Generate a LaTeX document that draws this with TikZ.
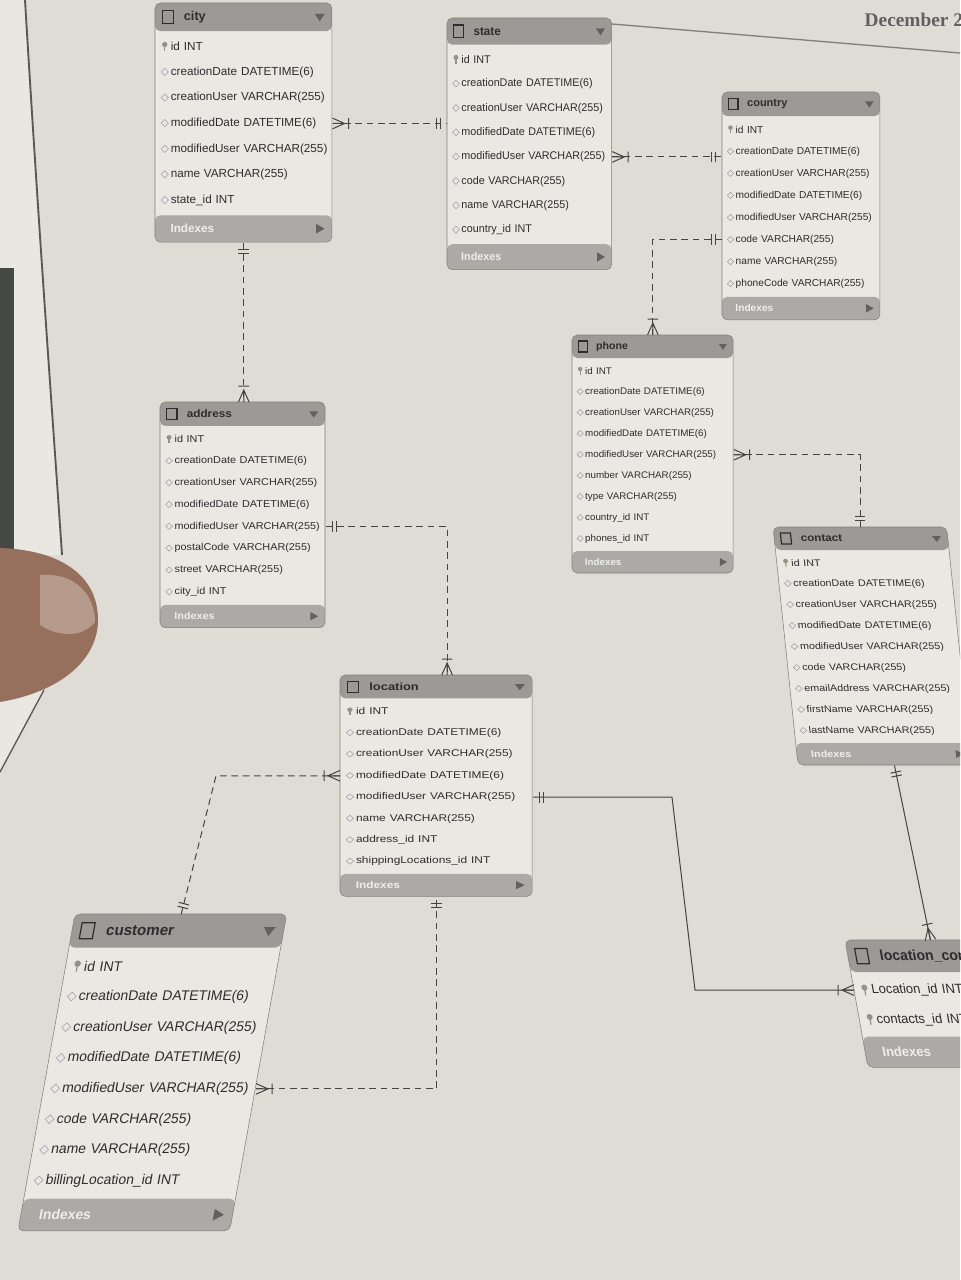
\documentclass[tikz,border=0pt]{standalone}
\usepackage{fontspec}
\setmainfont{Liberation Serif}
\setsansfont{Liberation Sans}
\usetikzlibrary{decorations.markings}

\definecolor{paper}{RGB}{222,220,213}
\definecolor{leftpage}{RGB}{232,231,226}
\definecolor{bodycol}{RGB}{234,232,226}
\definecolor{headcol}{RGB}{156,154,150}
\definecolor{footcol}{RGB}{172,170,166}
\definecolor{edgecol}{RGB}{128,126,122}
\definecolor{inkcol}{RGB}{45,45,45}
\definecolor{linecol}{RGB}{70,68,65}
\definecolor{keycol}{RGB}{150,146,136}
\definecolor{diacol}{RGB}{160,160,160}
\definecolor{thumbcol}{RGB}{150,112,92}
\definecolor{tablecol}{RGB}{70,72,68}

\newcommand{\erfieldfont}{\sffamily\fontsize{7.2}{8}\selectfont}
\newcommand{\ertitlefont}{\sffamily\bfseries\fontsize{7.8}{9}\selectfont}

% #1 name, #2 title, #3 placement, #4 width, #5 rows, #6 key rows, #7 fields
\newcommand{\erentity}[7]{%
  \begin{scope}[#3, transform shape]
    \pgfmathsetmacro{\eh}{49+21*#5}
    \pgfmathsetlengthmacro{\ew}{#4*0.75pt}
    \pgfmathsetlengthmacro{\ehl}{\eh*0.75pt}
    \fill[bodycol, rounded corners=4pt] (0,0) rectangle (#4,\eh);
    \fill[headcol, rounded corners=4pt] (0,0) rectangle (#4,23);
    \fill[footcol, rounded corners=4pt] (0,\eh-22) rectangle (#4,\eh);
    \draw[edgecol, rounded corners=4pt] (0,0) rectangle (#4,\eh);
    \draw[inkcol, line width=0.9pt] (6,6) rectangle (15,17);
    \node[anchor=west, font=\ertitlefont, text=inkcol] (#1-title) at (19,11.5) {#2};
    \fill[inkcol!75] (#4-14,9) -- (#4-6,9) -- (#4-10,15) -- cycle;
    \node[anchor=west, font=\erfieldfont\bfseries, text=white!80!footcol] (#1-idx) at (8,\eh-11) {Indexes};
    \fill[inkcol!75] (#4-13,\eh-15) -- (#4-13,\eh-7) -- (#4-6,\eh-11) -- cycle;
    \foreach \f [count=\i] in {#7} {
      \pgfmathsetmacro{\yc}{14.5+21*\i}
      \node[fieldrow, text width=\ew, anchor=north west] (#1-\i) at (0,4+21*\i) {\mbox{\hspace*{9.5pt}\f}};
      \ifnum\i>#6
        \draw[diacol, fill=white!75!diacol] (5,\yc) -- (8,\yc-3) -- (11,\yc) -- (8,\yc+3) -- cycle;
      \else
        \fill[keycol] (8,\yc-1.5) circle (2.2);
        \draw[keycol, line width=0.9pt] (8,\yc) -- (8,\yc+4);
      \fi
    }
    \node[inner sep=0pt, minimum width=\ew, minimum height=\ehl, anchor=north west] (#1) at (0,0) {};
  \end{scope}}

\begin{document}
\begin{tikzpicture}[x=0.75pt, y=-0.75pt]
	\tikzstyle{fieldrow}=[inner sep=0pt, minimum height=15.75pt, align=left, font=\erfieldfont, text=inkcol]
	\tikzstyle{rel}=[linecol, line width=0.75pt, dash pattern=on 5pt off 3.5pt]
	\tikzstyle{idrel}=[linecol, line width=0.75pt]
	\tikzstyle{one start}=[postaction={decorate, decoration={markings,
		mark=at position 5pt with {\draw[solid] (0pt,-4pt) -- (0pt,4pt);},
		mark=at position 8pt with {\draw[solid] (0pt,-4pt) -- (0pt,4pt);}}}]
	\tikzstyle{one end}=[postaction={decorate, decoration={markings,
		mark=at position -5pt with {\draw[solid] (0pt,-4pt) -- (0pt,4pt);},
		mark=at position -8pt with {\draw[solid] (0pt,-4pt) -- (0pt,4pt);}}}]
	\tikzstyle{many start}=[postaction={decorate, decoration={markings,
		mark=at position 9pt with {\draw[solid] (-9pt,4pt) -- (0pt,0pt) -- (-9pt,-4pt) (-9pt,0pt) -- (0pt,0pt) (3pt,-4pt) -- (3pt,4pt);}}}]
	\tikzstyle{many end}=[postaction={decorate, decoration={markings,
		mark=at position -9pt with {\draw[solid] (9pt,4pt) -- (0pt,0pt) -- (9pt,-4pt) (9pt,0pt) -- (0pt,0pt) (-3pt,-4pt) -- (-3pt,4pt);}}}]

	\useasboundingbox (0,0) rectangle (960,1280);
	\clip (0,0) rectangle (960,1280);

	% page, book edge and thumb
	\fill[paper] (0,0) rectangle (960,1280);
	\fill[leftpage] (0,0) -- (25,0) .. controls (40,250) and (55,450) .. (62,555) -- (0,555) -- cycle;
	\fill[tablecol] (0,268) rectangle (14,560);
	\draw[edgecol!70!black, line width=1.4pt] (25,0) .. controls (40,250) and (55,450) .. (62,555);
	\fill[leftpage] (0,700) -- (44,690) -- (0,772) -- cycle;
	\draw[edgecol!70!black, line width=1pt] (44,690) -- (0,772);
	\fill[thumbcol] (0,548) .. controls (60,550) and (98,575) .. (98,620) .. controls (98,660) and (60,692) .. (0,702) -- cycle;
	\fill[thumbcol!70!white] (40,575) .. controls (75,572) and (95,595) .. (95,622) .. controls (80,640) and (55,635) .. (40,625) -- cycle;
	\draw[edgecol, line width=1pt] (612,24) -- (960,53);
	\node[anchor=base west, font=\rmfamily\bfseries\fontsize{14.5}{16}\selectfont, text=inkcol!75] (datehead) at (860,27) {December 2};

	% tables
	\erentity{city}{city}{shift={(155,3)}, xscale=1.22, yscale=1.22}{145}{7}{1}{id INT, creationDate DATETIME(6), creationUser VARCHAR(255), modifiedDate DATETIME(6), modifiedUser VARCHAR(255), name VARCHAR(255), state\_id INT}
	\erentity{state}{state}{shift={(447,18)}, xscale=1.12, yscale=1.16}{147}{8}{1}{id INT, creationDate DATETIME(6), creationUser VARCHAR(255), modifiedDate DATETIME(6), modifiedUser VARCHAR(255), code VARCHAR(255), name VARCHAR(255), country\_id INT}
	\erentity{country}{country}{shift={(722,92)}, xscale=1.06, yscale=1.05}{149}{8}{1}{id INT, creationDate DATETIME(6), creationUser VARCHAR(255), modifiedDate DATETIME(6), modifiedUser VARCHAR(255), code VARCHAR(255), name VARCHAR(255), phoneCode VARCHAR(255)}
	\erentity{phone}{phone}{shift={(572,335)}, xscale=1.02, yscale=1.0}{158}{9}{1}{id INT, creationDate DATETIME(6), creationUser VARCHAR(255), modifiedDate DATETIME(6), modifiedUser VARCHAR(255), number VARCHAR(255), type VARCHAR(255), country\_id INT, phones\_id INT}
	\erentity{address}{address}{shift={(160,402)}, xscale=1.13, yscale=1.04}{146}{8}{1}{id INT, creationDate DATETIME(6), creationUser VARCHAR(255), modifiedDate DATETIME(6), modifiedUser VARCHAR(255), postalCode VARCHAR(255), street VARCHAR(255), city\_id INT}
	\erentity{contact}{contact}{shift={(773,527)}, xslant=-0.105, xscale=1.12, yscale=1.0}{155}{9}{1}{id INT, creationDate DATETIME(6), creationUser VARCHAR(255), modifiedDate DATETIME(6), modifiedUser VARCHAR(255), code VARCHAR(255), emailAddress VARCHAR(255), firstName VARCHAR(255), lastName VARCHAR(255)}
	\erentity{location}{location}{shift={(340,675)}, xscale=1.24, yscale=1.02}{155}{8}{1}{id INT, creationDate DATETIME(6), creationUser VARCHAR(255), modifiedDate DATETIME(6), modifiedUser VARCHAR(255), name VARCHAR(255), address\_id INT, shippingLocations\_id INT}
	\erentity{customer}{customer}{shift={(75,914)}, xslant=0.18, xscale=1.45, yscale=1.46}{146}{8}{1}{id INT, creationDate DATETIME(6), creationUser VARCHAR(255), modifiedDate DATETIME(6), modifiedUser VARCHAR(255), code VARCHAR(255), name VARCHAR(255), billingLocation\_id INT}
	\erentity{lc}{location\_contacts}{shift={(845,940)}, xslant=-0.18, xscale=1.35, yscale=1.4}{126}{2}{2}{Location\_id INT, contacts\_id INT}

	% relations
	\coordinate (custbend) at (216,0);
	\coordinate (lcbendA) at (672,0);
	\coordinate (lcbendB) at (695,0);
	\draw[rel, many start, one end] (city-4.east) -- (city-4.east -| state.west);
	\draw[rel, many start, one end] (state-5.east) -- (state-5.east -| country.west);
	\draw[rel, one start, many end] (country-6.west) -| (phone.north);
	\draw[rel, many start, one end] (phone-5.east) -| (contact.north);
	\draw[rel, one start, many end] (city.south) -- (city.south |- address.north);
	\draw[rel, one start, many end] (address-5.east) -| ([xshift=8pt]location.north);
	\draw[rel, many start, one end] (location-4.west) -- (location-4.west -| custbend) -- (customer.north);
	\draw[rel, many start, one end] (customer-5.east) -| (location.south);
	\draw[idrel, one start, many end] (location-5.east) -- (location-5.east -| lcbendA) -- (lc-1.west -| lcbendB) -- (lc-1.west);
	\draw[idrel, one start, many end] ([xshift=7pt]contact.south) -- (lc.north);
\end{tikzpicture}
\end{document}
